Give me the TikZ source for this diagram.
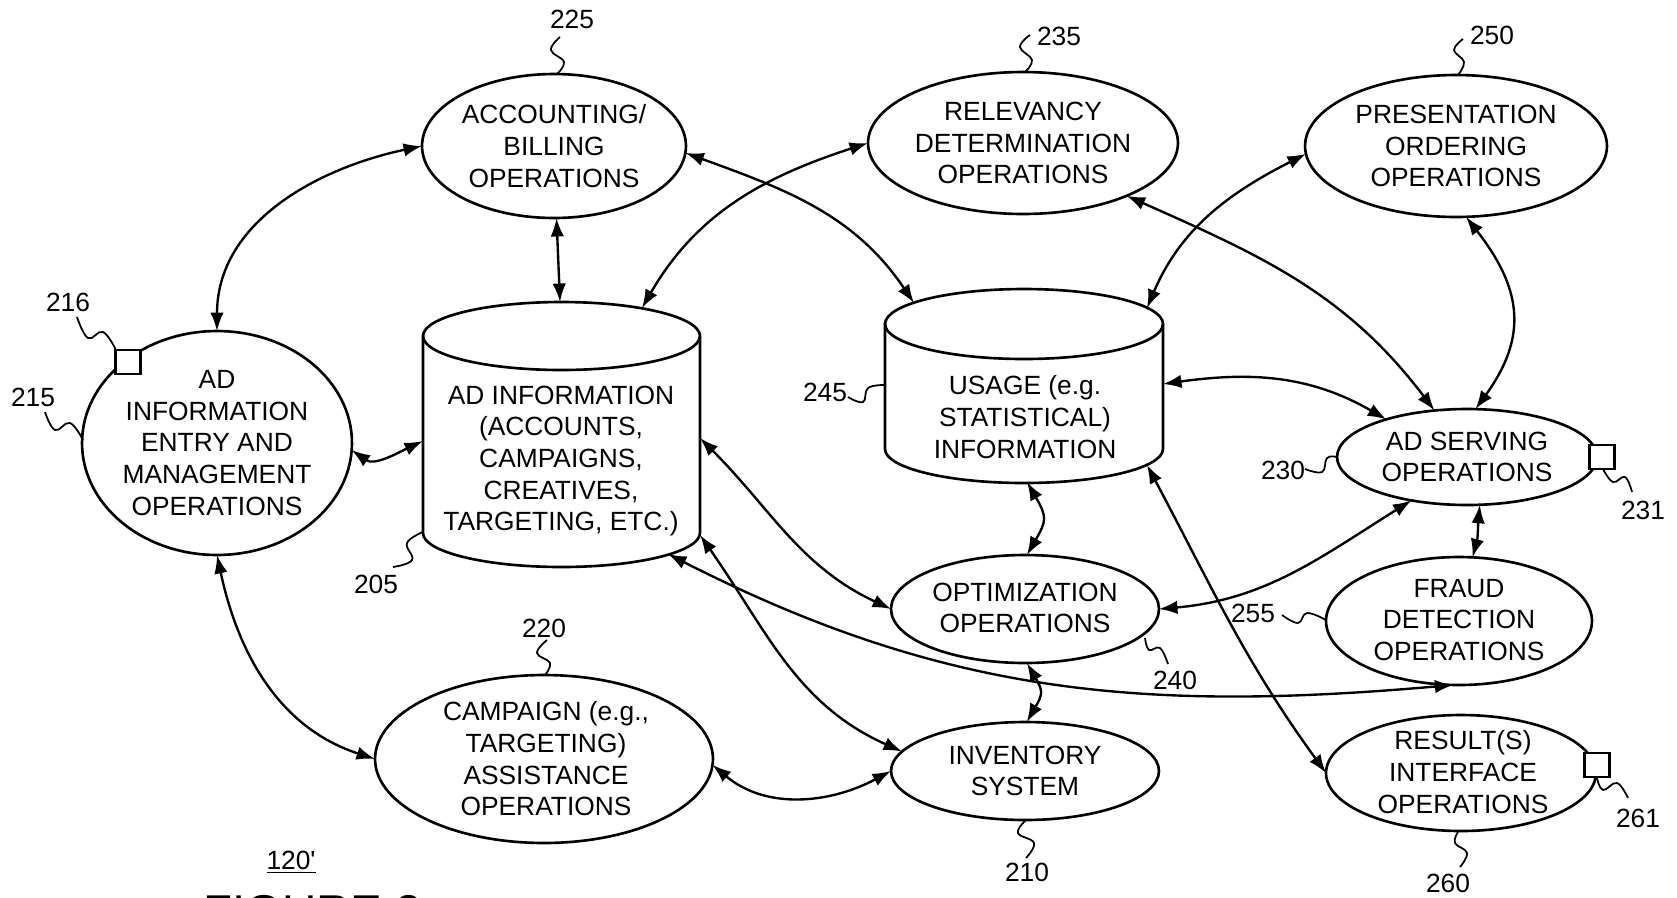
\documentclass[tikz,border=0pt]{standalone}
\usepackage{fontspec}
\setmainfont{Liberation Sans}
\newfontfamily\plainsans{Liberation Sans}
\usetikzlibrary{arrows.meta,shapes.geometric}

\begin{document}
\begin{tikzpicture}[x=0.02cm,y=-0.02cm,
  every node/.style={font=\fontsize{15}{18}\selectfont},
  op/.style={draw, ellipse, line width=1.5pt, fill=white, inner sep=0pt, outer sep=0pt},
  txt/.style={align=center, inner sep=0pt},
  num/.style={inner sep=0pt},
  conn/.style={line width=1.35pt, {Latex[length=0.37cm,width=0.27cm]}-{Latex[length=0.37cm,width=0.27cm]}},
  lead/.style={line width=1pt},
  port/.style={draw, fill=white, line width=1.3pt, minimum width=0.5cm, minimum height=0.48cm, inner sep=0pt},
  db/.style={line width=1.5pt, fill=white, draw},
]
\useasboundingbox (0,0) rectangle (1677,897);
\fill[white] (0,0) rectangle (1677,897);
\clip (0,0) rectangle (1677,897);

% ---------- operation ellipses ----------
\node[op, minimum width=5.4cm,  minimum height=4.48cm] (entry)  at (217,443) {};
\node[op, minimum width=5.28cm, minimum height=2.88cm] (acct)   at (554,146) {};
\node[op, minimum width=6.2cm,  minimum height=2.84cm] (relev)  at (1023,143) {};
\node[op, minimum width=6.04cm, minimum height=2.84cm] (pres)   at (1456,146) {};
\node[op, minimum width=5.2cm,  minimum height=1.92cm] (serve)  at (1467,457) {};
\node[op, minimum width=5.36cm, minimum height=2.16cm] (opt)    at (1025,609) {};
\node[op, minimum width=5.32cm, minimum height=2.56cm] (fraud)  at (1459,621) {};
\node[op, minimum width=6.76cm, minimum height=3.36cm] (camp)   at (544,759) {};
\node[op, minimum width=5.36cm, minimum height=1.96cm] (inv)    at (1025,771) {};
\node[op, minimum width=5.4cm,  minimum height=2.32cm] (result) at (1461,773) {};

\node[txt] (entry-t)  at (217,443) {AD\\INFORMATION\\ENTRY AND\\MANAGEMENT\\OPERATIONS};
\node[txt] (acct-t)   at (554,146) {ACCOUNTING/\\BILLING\\OPERATIONS};
\node[txt] (relev-t)  at (1023,143) {RELEVANCY\\DETERMINATION\\OPERATIONS};
\node[txt] (pres-t)   at (1456,146) {PRESENTATION\\ORDERING\\OPERATIONS};
\node[txt] (serve-t)  at (1467,457) {AD SERVING\\OPERATIONS};
\node[txt] (opt-t)    at (1025,608) {OPTIMIZATION\\OPERATIONS};
\node[txt] (fraud-t)  at (1459,620) {FRAUD\\DETECTION\\OPERATIONS};
\node[txt] (camp-t)   at (546,759) {CAMPAIGN (e.g.,\\TARGETING)\\ASSISTANCE\\OPERATIONS};
\node[txt] (inv-t)    at (1025,771) {INVENTORY\\SYSTEM};
\node[txt] (result-t) at (1463,772) {RESULT(S)\\INTERFACE\\OPERATIONS};

% ---------- databases (cylinders) ----------
\path[db] (423,336) -- (423,533) arc[start angle=180,end angle=360,x radius=2.77cm,y radius=0.68cm]
  -- (700,336) arc[start angle=0,end angle=180,x radius=2.77cm,y radius=0.68cm] -- cycle;
\draw[line width=1.5pt] (423,336) arc[start angle=180,end angle=360,x radius=2.77cm,y radius=0.68cm];
\node[inner sep=0pt, minimum width=5.54cm, minimum height=5.3cm] (adinfo) at (561.5,434.5) {};
\node[txt] (adinfo-t) at (561,461) {AD INFORMATION\\(ACCOUNTS,\\CAMPAIGNS,\\CREATIVES,\\TARGETING, ETC.)};

\path[db] (885,324) -- (885,449) arc[start angle=180,end angle=360,x radius=2.78cm,y radius=0.68cm]
  -- (1163,324) arc[start angle=0,end angle=180,x radius=2.78cm,y radius=0.7cm] -- cycle;
\draw[line width=1.5pt] (885,324) arc[start angle=180,end angle=360,x radius=2.78cm,y radius=0.7cm];
\node[inner sep=0pt, minimum width=5.56cm, minimum height=3.86cm] (usage) at (1024,385.5) {};
\node[txt] (usage-t) at (1025,417) {USAGE (e.g.\\STATISTICAL)\\INFORMATION};

% connection points on the cylinders
\coordinate (ai-n)  at (560,302);
\coordinate (ai-ne) at (642,308);
\coordinate (ai-w)  at (423,441);
\coordinate (ai-e)  at (700,438);
\coordinate (ai-se) at (700,535);
\coordinate (ai-s)  at (668,554);
\coordinate (us-nw) at (914,303);
\coordinate (us-ne) at (1147,308);
\coordinate (us-e)  at (1163,384);
\coordinate (us-s)  at (1027,482);
\coordinate (us-se) at (1147,465);

% ---------- interface ports ----------
\node[port] (p216) at (128,362) {};
\node[port] (p231) at (1602,457) {};
\node[port] (p261) at (1597,765) {};

% ---------- connectors ----------
\draw[conn] (acct.180) to[out=192,in=90] (entry.90);
\draw[conn] (acct.272) -- (ai-n);
\draw[conn] (acct.-3) to[out=-20,in=124] (us-nw);
\draw[conn] (relev.180) to[out=198,in=60] (ai-ne);
\draw[conn] (relev.-27) to[out=-24,in=127] (serve.125);
\draw[conn] (pres.183) to[out=207,in=67] (us-ne);
\draw[conn] (pres.-82) to[out=-52,in=54,looseness=1.2] (serve.80);
\draw[conn] (entry.-3) to[out=-35,in=205] (ai-w);
\draw[conn] (us-e) to[out=8,in=150] (serve.155);
\draw[conn] (us-s) to[out=-60,in=60,looseness=1.4] (opt.88);
\draw[conn] (ai-e) to[out=-45,in=155] (opt.180);
\draw[conn] (serve.218) to[out=212,in=5] (opt.0);
\draw[conn] (fraud.78) to[out=75,in=-95] (serve.-75);
\draw[conn] (ai-s) to[out=-27,in=185] (fraud.-95);
\draw[conn] (ai-se) to[out=-55,in=156] (inv.171);
\draw[conn] (camp.-2) to[out=-40,in=208] (inv.180);
\draw[conn] (entry.270) to[out=-78,in=162] (camp.180);
\draw[conn] (opt.-88) to[out=-60,in=60,looseness=1.4] (inv.88);
\draw[conn] (us-se) to[out=-62,in=126] (result.180);

% ---------- reference numerals and leader lines ----------
\node[num] (n225) at (572,19) {225};
\draw[lead] plot[smooth,tension=0.7] coordinates {(560,37) (551,50) (564,62) (557,74)};
\node[num] (n235) at (1059,36) {235};
\draw[lead] plot[smooth,tension=0.7] coordinates {(1030,35) (1020,47) (1032,60) (1025,72)};
\node[num] (n250) at (1492,35) {250};
\draw[lead] plot[smooth,tension=0.7] coordinates {(1463,39) (1454,50) (1464,62) (1458,75)};
\node[num] (n216) at (68,302) {216};
\draw[lead] plot[smooth,tension=0.7] coordinates {(77,317) (88,338) (103,332) (116,350)};
\node[num] (n215) at (33,397) {215};
\draw[lead] plot[smooth,tension=0.7] coordinates {(45,412) (55,430) (70,423) (83,440)};
\node[num] (n205) at (376,584) {205};
\draw[lead] plot[smooth,tension=0.7] coordinates {(393,567) (412,560) (407,543) (423,532)};
\node[num] (n220) at (544,628) {220};
\draw[lead] plot[smooth,tension=0.7] coordinates {(547,640) (537,653) (550,663) (545,675)};
\node[num] (n245) at (825,392) {245};
\draw[lead] plot[smooth,tension=0.7] coordinates {(848,397) (863,402) (868,388) (885,385)};
\node[num] (n230) at (1283,470) {230};
\draw[lead] plot[smooth,tension=0.7] coordinates {(1305,469) (1322,472) (1327,458) (1337,457)};
\node[num] (n231) at (1643,510) {231};
\draw[lead] plot[smooth,tension=0.7] coordinates {(1603,469) (1613,482) (1625,477) (1632,492)};
\node[num] (n255) at (1253,613) {255};
\draw[lead] plot[smooth,tension=0.7] coordinates {(1282,615) (1298,623) (1307,613) (1326,620)};
\node[num] (n240) at (1175,680) {240};
\draw[lead] plot[smooth,tension=0.7] coordinates {(1145,638) (1149,650) (1160,648) (1168,664)};
\node[num] (n260) at (1448,883) {260};
\draw[lead] plot[smooth,tension=0.7] coordinates {(1458,832) (1455,843) (1467,853) (1460,867)};
\node[num] (n261) at (1638,818) {261};
\draw[lead] plot[smooth,tension=0.7] coordinates {(1597,778) (1603,790) (1617,783) (1628,798)};
\node[num] (n210) at (1027,872) {210};
\draw[lead] plot[smooth,tension=0.7] coordinates {(1026,820) (1018,833) (1034,843) (1026,858)};

\node[num] (n120) at (291,862) {\underline{\plainsans 120'}};
\node[inner sep=0pt, anchor=north west, font=\fontsize{27}{30}\selectfont] (fig) at (203,895) {FIGURE 2};
\end{tikzpicture}
\end{document}
